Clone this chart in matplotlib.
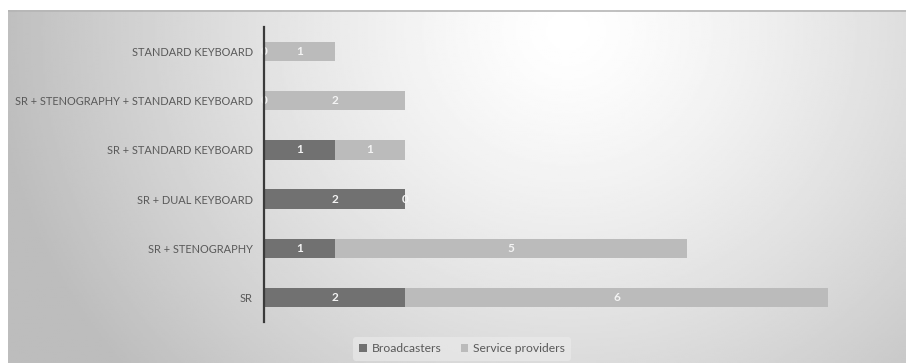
import numpy as np
import matplotlib.pyplot as plt

categories = ['SR', 'SR + STENOGRAPHY', 'SR + DUAL KEYBOARD', 'SR + STANDARD KEYBOARD',
              'SR + STENOGRAPHY + STANDARD KEYBOARD', 'STANDARD KEYBOARD']
broadcasters = [2, 1, 2, 1, 0, 0]
service_providers = [6, 5, 0, 1, 2, 1]

dark = '#717171'
light = '#bbbbbb'
text_grey = '#595959'

plt.rcParams['font.family'] = ['Lato', 'DejaVu Sans']

fig = plt.figure(figsize=(9.06, 3.63), dpi=100)
fig.patch.set_facecolor('white')

# radial grey background behind the chart
bg = fig.add_axes([8 / 906, 0, 898 / 906, 353 / 363])
gx, gy = np.meshgrid(np.linspace(0, 898, 450), np.linspace(0, 353, 180))
r = np.sqrt(((gx - 560) / 560) ** 2 + ((gy - 20) / 520) ** 2)
shade = np.clip(1.0 - 0.25 * r ** 1.3, 0.74, 1.0)
bg.imshow(shade, cmap='gray', vmin=0, vmax=1, aspect='auto',
          extent=[0, 898, 353, 0], interpolation='bilinear')
bg.axhline(0.5, color='#b5b5b5', lw=1.2)
bg.set_xlim(0, 898)
bg.set_ylim(353, 0)
bg.axis('off')

ax = fig.add_axes([264 / 906, 41 / 363, 600 / 906, 295 / 363])
ax.patch.set_alpha(0)
y = np.arange(len(categories))
h = 0.39
b1 = ax.barh(y, broadcasters, height=h, color=dark, label='Broadcasters', zorder=2)
b2 = ax.barh(y, service_providers, height=h, left=broadcasters, color=light,
             label='Service providers', zorder=2)

for i in range(len(categories)):
    ax.text(broadcasters[i] / 2, y[i], str(broadcasters[i]), ha='center', va='center',
            color='#f4f4f4', fontsize=8.5, fontweight='bold', zorder=3)
    ax.text(broadcasters[i] + service_providers[i] / 2, y[i], str(service_providers[i]),
            ha='center', va='center', color='#f4f4f4', fontsize=8.5, fontweight='bold', zorder=3)

ax.set_xlim(0, 600 / 70.5)
ax.set_ylim(-0.5, 5.5)
ax.set_yticks(y)
ax.set_yticklabels(categories, color=text_grey, fontsize=7.9)
ax.tick_params(axis='y', length=0, pad=8)
ax.set_xticks([])
for s in ['top', 'right', 'bottom']:
    ax.spines[s].set_visible(False)
ax.spines['left'].set_color('#3a3a3a')
ax.spines['left'].set_linewidth(1.6)
ax.spines['left'].set_zorder(4)

leg = fig.legend(handles=[b1, b2], loc='center', bbox_to_anchor=(462 / 906, 1 - 349 / 363),
                 ncol=2, frameon=True, fontsize=8.7, handlelength=0.6, handleheight=0.6,
                 handletextpad=0.4, columnspacing=1.6, borderpad=0.5)
leg.get_frame().set_facecolor('#ececec')
leg.get_frame().set_edgecolor('none')
leg.get_frame().set_alpha(0.6)
for t in leg.get_texts():
    t.set_color(text_grey)

plt.savefig('out.png', dpi=100)
plt.close()
